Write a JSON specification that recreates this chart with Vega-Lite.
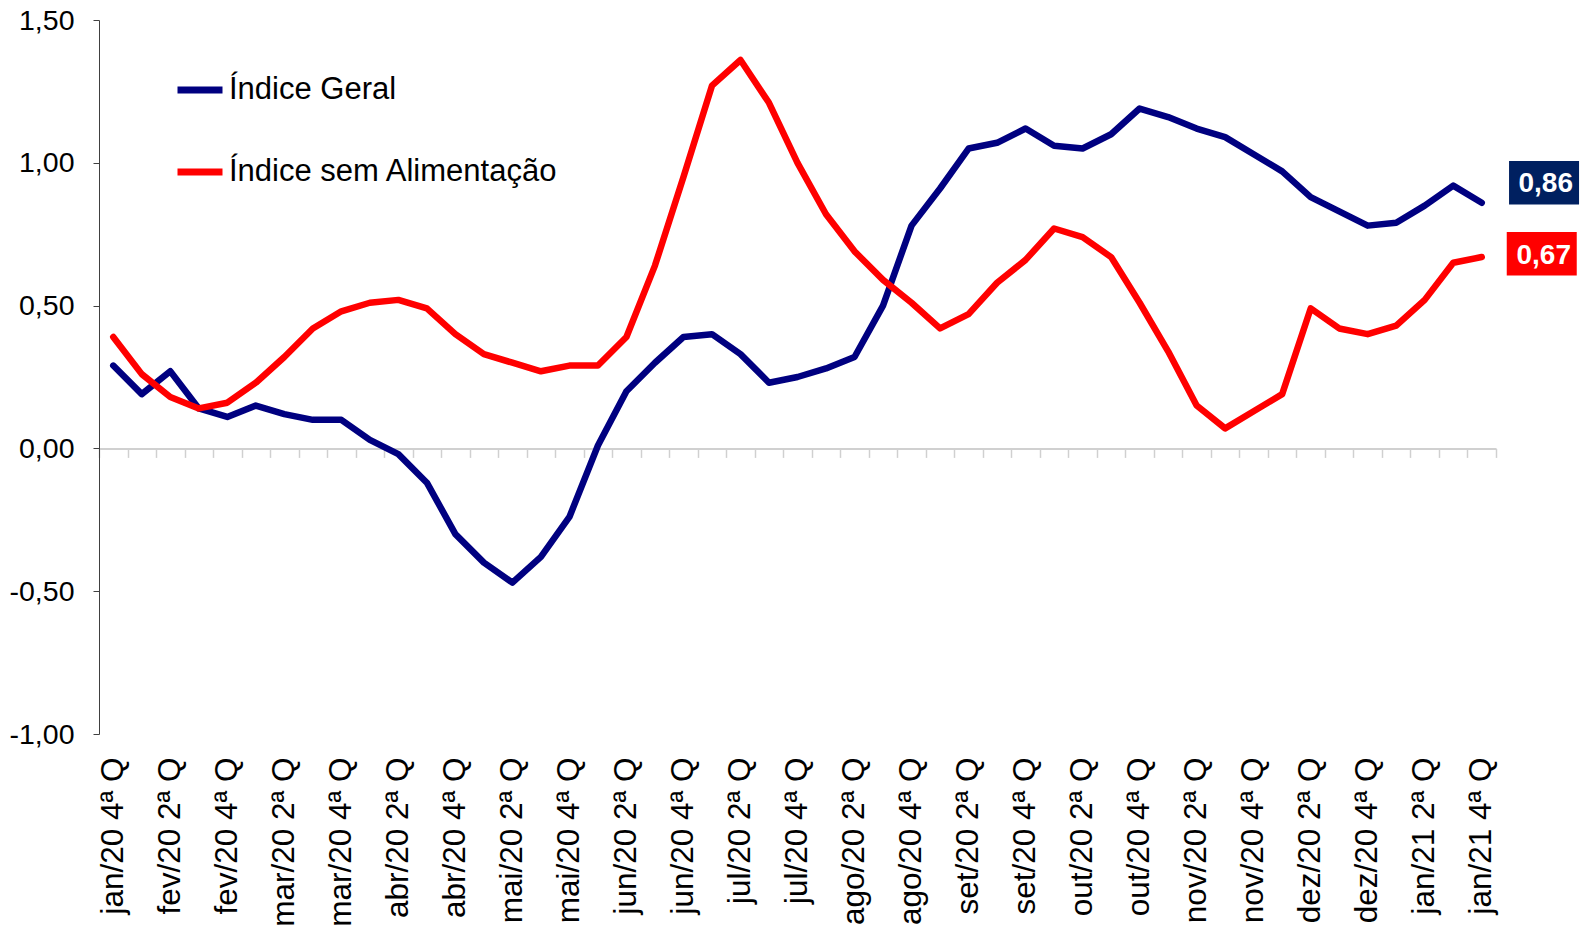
{
  "$schema": "https://vega.github.io/schema/vega-lite/v6.json",
  "width": 1397,
  "height": 714,
  "autosize": {"type": "none"},
  "padding": {"left": 99, "top": 20, "right": 90, "bottom": 192},
  "background": "white",
  "config": {
    "font": "Liberation Sans",
    "view": {"stroke": null},
    "locale": {"number": {"decimal": ",", "thousands": ".", "grouping": [3], "currency": ["R$", ""], "minus": "-"}}
  },
  "data": {"values": [
    {"q": "jan/20 4ª Q", "s": "Índice Geral", "v": 0.29},
    {"q": "fev/20 1ª Q", "s": "Índice Geral", "v": 0.19},
    {"q": "fev/20 2ª Q", "s": "Índice Geral", "v": 0.27},
    {"q": "fev/20 3ª Q", "s": "Índice Geral", "v": 0.14},
    {"q": "fev/20 4ª Q", "s": "Índice Geral", "v": 0.11},
    {"q": "mar/20 1ª Q", "s": "Índice Geral", "v": 0.15},
    {"q": "mar/20 2ª Q", "s": "Índice Geral", "v": 0.12},
    {"q": "mar/20 3ª Q", "s": "Índice Geral", "v": 0.10},
    {"q": "mar/20 4ª Q", "s": "Índice Geral", "v": 0.10},
    {"q": "abr/20 1ª Q", "s": "Índice Geral", "v": 0.03},
    {"q": "abr/20 2ª Q", "s": "Índice Geral", "v": -0.02},
    {"q": "abr/20 3ª Q", "s": "Índice Geral", "v": -0.12},
    {"q": "abr/20 4ª Q", "s": "Índice Geral", "v": -0.30},
    {"q": "mai/20 1ª Q", "s": "Índice Geral", "v": -0.40},
    {"q": "mai/20 2ª Q", "s": "Índice Geral", "v": -0.47},
    {"q": "mai/20 3ª Q", "s": "Índice Geral", "v": -0.38},
    {"q": "mai/20 4ª Q", "s": "Índice Geral", "v": -0.24},
    {"q": "jun/20 1ª Q", "s": "Índice Geral", "v": 0.01},
    {"q": "jun/20 2ª Q", "s": "Índice Geral", "v": 0.20},
    {"q": "jun/20 3ª Q", "s": "Índice Geral", "v": 0.30},
    {"q": "jun/20 4ª Q", "s": "Índice Geral", "v": 0.39},
    {"q": "jul/20 1ª Q", "s": "Índice Geral", "v": 0.40},
    {"q": "jul/20 2ª Q", "s": "Índice Geral", "v": 0.33},
    {"q": "jul/20 3ª Q", "s": "Índice Geral", "v": 0.23},
    {"q": "jul/20 4ª Q", "s": "Índice Geral", "v": 0.25},
    {"q": "ago/20 1ª Q", "s": "Índice Geral", "v": 0.28},
    {"q": "ago/20 2ª Q", "s": "Índice Geral", "v": 0.32},
    {"q": "ago/20 3ª Q", "s": "Índice Geral", "v": 0.50},
    {"q": "ago/20 4ª Q", "s": "Índice Geral", "v": 0.78},
    {"q": "set/20 1ª Q", "s": "Índice Geral", "v": 0.91},
    {"q": "set/20 2ª Q", "s": "Índice Geral", "v": 1.05},
    {"q": "set/20 3ª Q", "s": "Índice Geral", "v": 1.07},
    {"q": "set/20 4ª Q", "s": "Índice Geral", "v": 1.12},
    {"q": "out/20 1ª Q", "s": "Índice Geral", "v": 1.06},
    {"q": "out/20 2ª Q", "s": "Índice Geral", "v": 1.05},
    {"q": "out/20 3ª Q", "s": "Índice Geral", "v": 1.10},
    {"q": "out/20 4ª Q", "s": "Índice Geral", "v": 1.19},
    {"q": "nov/20 1ª Q", "s": "Índice Geral", "v": 1.16},
    {"q": "nov/20 2ª Q", "s": "Índice Geral", "v": 1.12},
    {"q": "nov/20 3ª Q", "s": "Índice Geral", "v": 1.09},
    {"q": "nov/20 4ª Q", "s": "Índice Geral", "v": 1.03},
    {"q": "dez/20 1ª Q", "s": "Índice Geral", "v": 0.97},
    {"q": "dez/20 2ª Q", "s": "Índice Geral", "v": 0.88},
    {"q": "dez/20 3ª Q", "s": "Índice Geral", "v": 0.83},
    {"q": "dez/20 4ª Q", "s": "Índice Geral", "v": 0.78},
    {"q": "jan/21  1ª Q", "s": "Índice Geral", "v": 0.79},
    {"q": "jan/21  2ª Q", "s": "Índice Geral", "v": 0.85},
    {"q": "jan/21  3ª Q", "s": "Índice Geral", "v": 0.92},
    {"q": "jan/21  4ª Q", "s": "Índice Geral", "v": 0.86},
    {"q": "jan/20 4ª Q", "s": "Índice sem Alimentação", "v": 0.39},
    {"q": "fev/20 1ª Q", "s": "Índice sem Alimentação", "v": 0.26},
    {"q": "fev/20 2ª Q", "s": "Índice sem Alimentação", "v": 0.18},
    {"q": "fev/20 3ª Q", "s": "Índice sem Alimentação", "v": 0.14},
    {"q": "fev/20 4ª Q", "s": "Índice sem Alimentação", "v": 0.16},
    {"q": "mar/20 1ª Q", "s": "Índice sem Alimentação", "v": 0.23},
    {"q": "mar/20 2ª Q", "s": "Índice sem Alimentação", "v": 0.32},
    {"q": "mar/20 3ª Q", "s": "Índice sem Alimentação", "v": 0.42},
    {"q": "mar/20 4ª Q", "s": "Índice sem Alimentação", "v": 0.48},
    {"q": "abr/20 1ª Q", "s": "Índice sem Alimentação", "v": 0.51},
    {"q": "abr/20 2ª Q", "s": "Índice sem Alimentação", "v": 0.52},
    {"q": "abr/20 3ª Q", "s": "Índice sem Alimentação", "v": 0.49},
    {"q": "abr/20 4ª Q", "s": "Índice sem Alimentação", "v": 0.40},
    {"q": "mai/20 1ª Q", "s": "Índice sem Alimentação", "v": 0.33},
    {"q": "mai/20 2ª Q", "s": "Índice sem Alimentação", "v": 0.30},
    {"q": "mai/20 3ª Q", "s": "Índice sem Alimentação", "v": 0.27},
    {"q": "mai/20 4ª Q", "s": "Índice sem Alimentação", "v": 0.29},
    {"q": "jun/20 1ª Q", "s": "Índice sem Alimentação", "v": 0.29},
    {"q": "jun/20 2ª Q", "s": "Índice sem Alimentação", "v": 0.39},
    {"q": "jun/20 3ª Q", "s": "Índice sem Alimentação", "v": 0.64},
    {"q": "jun/20 4ª Q", "s": "Índice sem Alimentação", "v": 0.95},
    {"q": "jul/20 1ª Q", "s": "Índice sem Alimentação", "v": 1.27},
    {"q": "jul/20 2ª Q", "s": "Índice sem Alimentação", "v": 1.36},
    {"q": "jul/20 3ª Q", "s": "Índice sem Alimentação", "v": 1.21},
    {"q": "jul/20 4ª Q", "s": "Índice sem Alimentação", "v": 1.00},
    {"q": "ago/20 1ª Q", "s": "Índice sem Alimentação", "v": 0.82},
    {"q": "ago/20 2ª Q", "s": "Índice sem Alimentação", "v": 0.69},
    {"q": "ago/20 3ª Q", "s": "Índice sem Alimentação", "v": 0.59},
    {"q": "ago/20 4ª Q", "s": "Índice sem Alimentação", "v": 0.51},
    {"q": "set/20 1ª Q", "s": "Índice sem Alimentação", "v": 0.42},
    {"q": "set/20 2ª Q", "s": "Índice sem Alimentação", "v": 0.47},
    {"q": "set/20 3ª Q", "s": "Índice sem Alimentação", "v": 0.58},
    {"q": "set/20 4ª Q", "s": "Índice sem Alimentação", "v": 0.66},
    {"q": "out/20 1ª Q", "s": "Índice sem Alimentação", "v": 0.77},
    {"q": "out/20 2ª Q", "s": "Índice sem Alimentação", "v": 0.74},
    {"q": "out/20 3ª Q", "s": "Índice sem Alimentação", "v": 0.67},
    {"q": "out/20 4ª Q", "s": "Índice sem Alimentação", "v": 0.51},
    {"q": "nov/20 1ª Q", "s": "Índice sem Alimentação", "v": 0.34},
    {"q": "nov/20 2ª Q", "s": "Índice sem Alimentação", "v": 0.15},
    {"q": "nov/20 3ª Q", "s": "Índice sem Alimentação", "v": 0.07},
    {"q": "nov/20 4ª Q", "s": "Índice sem Alimentação", "v": 0.13},
    {"q": "dez/20 1ª Q", "s": "Índice sem Alimentação", "v": 0.19},
    {"q": "dez/20 2ª Q", "s": "Índice sem Alimentação", "v": 0.49},
    {"q": "dez/20 3ª Q", "s": "Índice sem Alimentação", "v": 0.42},
    {"q": "dez/20 4ª Q", "s": "Índice sem Alimentação", "v": 0.40},
    {"q": "jan/21  1ª Q", "s": "Índice sem Alimentação", "v": 0.43},
    {"q": "jan/21  2ª Q", "s": "Índice sem Alimentação", "v": 0.52},
    {"q": "jan/21  3ª Q", "s": "Índice sem Alimentação", "v": 0.65},
    {"q": "jan/21  4ª Q", "s": "Índice sem Alimentação", "v": 0.67}
  ]},
  "encoding": {
    "x": {
      "field": "q", "type": "ordinal", "sort": null, "bandPosition": 0.5,
      "scale": {"type": "band", "paddingInner": 0, "paddingOuter": 0},
      "axis": {
        "title": null, "orient": "bottom", "offset": -285.6,
        "tickBand": "extent", "tickSize": 9, "tickColor": "#d0d0d0", "tickWidth": 1.5,
        "domainColor": "#d0d0d0", "domainWidth": 2,
        "labelAngle": 270, "labelAlign": "right", "labelBaseline": "middle",
        "labelFontSize": 31.5, "labelColor": "#000000", "labelPadding": 299.6,
        "labelOverlap": false, "labelBound": false,
        "labelExpr": "indexof(datum.label, '1ª') >= 0 || indexof(datum.label, '3ª') >= 0 ? '' : datum.label"
      }
    },
    "y": {
      "field": "v", "type": "quantitative",
      "scale": {"domain": [-1, 1.5], "nice": false, "zero": false},
      "axis": {
        "title": null, "values": [-1, -0.5, 0, 0.5, 1, 1.5], "format": ".2f",
        "grid": false, "domainColor": "#404040", "domainWidth": 1,
        "tickColor": "#404040", "tickSize": 6, "tickWidth": 1,
        "labelFontSize": 28.5, "labelColor": "#000000", "labelPadding": 19
      }
    }
  },
  "layer": [
    {
      "mark": {"type": "line", "strokeWidth": 6.5, "strokeCap": "round", "strokeJoin": "round"},
      "encoding": {
        "color": {
          "field": "s", "type": "nominal",
          "scale": {"domain": ["Índice Geral", "Índice sem Alimentação"], "range": ["#000080", "#FF0000"]},
          "legend": {
            "title": null, "orient": "none", "legendX": 75, "legendY": 44,
            "symbolType": "stroke", "symbolSize": 2025, "symbolStrokeWidth": 7,
            "labelFontSize": 31, "labelColor": "#000000", "labelOffset": 3,
            "rowPadding": 41, "padding": 0, "labelLimit": 600
          }
        }
      }
    },
    {
      "transform": [{"filter": "datum.q == 'jan/21  4ª Q' && datum.s == 'Índice Geral'"}],
      "mark": {"type": "point", "shape": "M-1,-0.621L1,-0.621L1,0.621L-1,0.621Z", "size": 4900, "filled": true, "fill": "#002060", "opacity": 1, "strokeWidth": 0, "xOffset": 62.3, "yOffset": -20.1}
    },
    {
      "transform": [{"filter": "datum.q == 'jan/21  4ª Q' && datum.s == 'Índice Geral'"}],
      "mark": {"type": "text", "fontSize": 28, "fontWeight": "bold", "color": "#ffffff", "align": "center", "baseline": "middle", "xOffset": 64, "yOffset": -18.5},
      "encoding": {"text": {"field": "v", "type": "quantitative", "format": ".2f"}}
    },
    {
      "transform": [{"filter": "datum.q == 'jan/21  4ª Q' && datum.s == 'Índice sem Alimentação'"}],
      "mark": {"type": "point", "shape": "M-1,-0.621L1,-0.621L1,0.621L-1,0.621Z", "size": 4900, "filled": true, "fill": "#FF0000", "opacity": 1, "strokeWidth": 0, "xOffset": 60, "yOffset": -3.2}
    },
    {
      "transform": [{"filter": "datum.q == 'jan/21  4ª Q' && datum.s == 'Índice sem Alimentação'"}],
      "mark": {"type": "text", "fontSize": 28, "fontWeight": "bold", "color": "#ffffff", "align": "center", "baseline": "middle", "xOffset": 62, "yOffset": -1.5},
      "encoding": {"text": {"field": "v", "type": "quantitative", "format": ".2f"}}
    }
  ]
}
